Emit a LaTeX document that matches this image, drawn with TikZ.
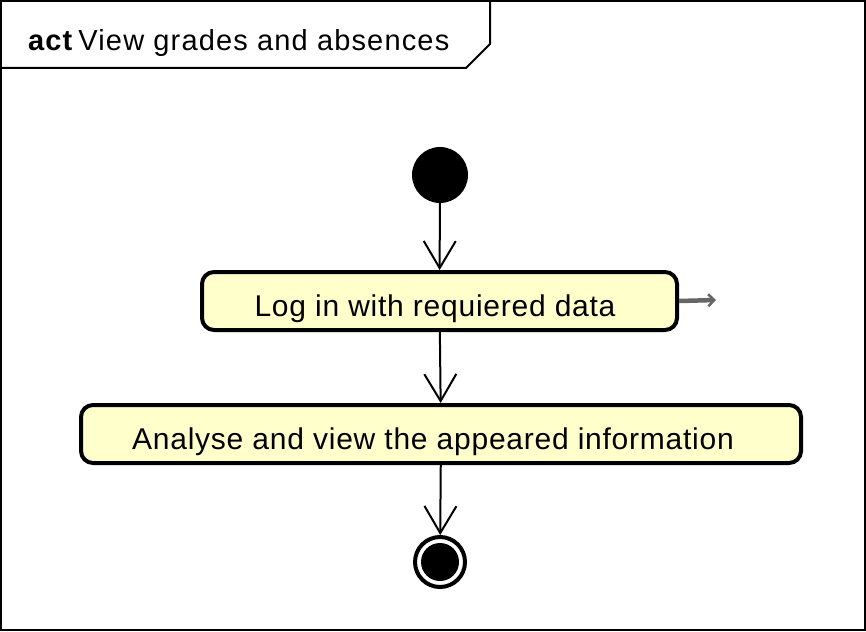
\documentclass[tikz,border=0pt]{standalone}
\usepackage{fontspec}
\setmainfont{Liberation Sans}
\usetikzlibrary{arrows.meta, positioning}
\definecolor{actfill}{HTML}{FFFFCC}
\definecolor{stubgrey}{HTML}{666666}

\begin{document}
\begin{tikzpicture}[
    x=1pt, y=-1pt,
    action/.style = {rectangle, rounded corners=12pt, draw, line width=4pt,
                     fill=actfill, minimum height=58pt, inner sep=0pt,
                     text height=30pt, text depth=0pt,
                     font=\fontsize{30}{36}\selectfont\addfontfeatures{LetterSpace=2.5}},
    flow/.style = {black, line width=2pt, -{Straight Barb[length=27pt, width=32pt, line width=2pt]}},
    frame/.style = {draw, line width=2pt}
    ]

  \useasboundingbox (0,0) rectangle (866,631);

  % frame and title tab
  \draw[frame] (1,1) rectangle (865,630);
  \draw[frame] (1,68) -- (466,68) -- (490,44) -- (490,1);
  \node[anchor=base west, inner sep=0pt,
        font=\fontsize{29}{34}\selectfont\addfontfeatures{LetterSpace=4}]
        (title) at (28,51) {\textbf{act}\,View grades and absences} ;

  \node[circle, fill=black, minimum size=56pt, inner sep=0pt] (start) at (440,175) {} ;

  \node[action, minimum width=475pt] (login) at (439.5,301) {Log in with requiered data\hspace*{9pt}} ;
  \node[action, minimum width=720pt] (view) at (441,434) {Analyse and view the appeared information\hspace*{16pt}} ;

  \node[circle, draw, line width=4pt, minimum size=50pt, inner sep=0pt] (final) at (440,562) {} ;
  \fill (final.center) circle[radius=19pt] ;

  \coordinate (stub) at (716,300) ;

  \draw[flow] (start) -- (login) ;
  \draw[flow] (login) -- (view) ;
  \draw[flow] (view) -- (final) ;
  \draw[stubgrey, line width=4.5pt, -{Straight Barb[length=6pt, width=12pt, line width=2.5pt]}]
    (login.east) -- (stub) ;
\end{tikzpicture}
\end{document}
